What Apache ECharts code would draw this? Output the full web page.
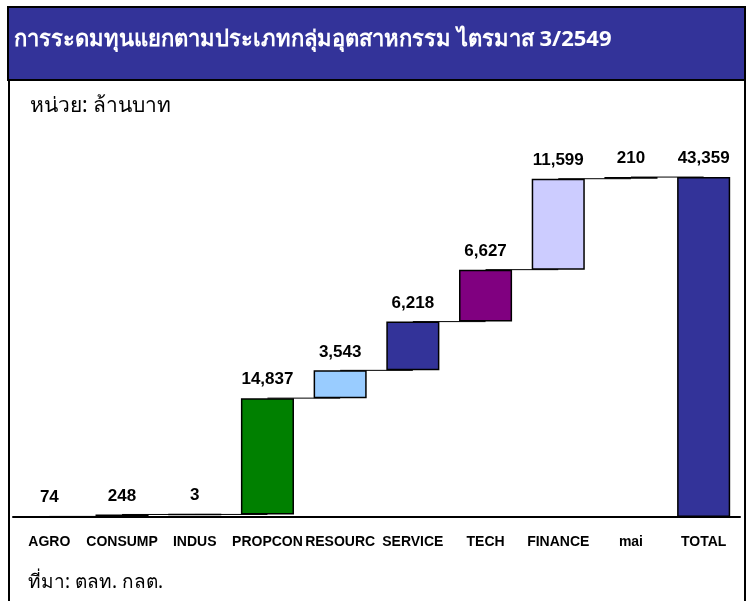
<!DOCTYPE html>
<html>
<head>
<meta charset="utf-8">
<script src="https://cdn.jsdelivr.net/npm/echarts@6/dist/echarts.min.js"></script>
<style>
  html, body { margin: 0; padding: 0; background: #fff; }
  #chart { width: 747px; height: 601px; }
</style>
</head>
<body>
<div id="chart"></div>
<script>
var categories = ['AGRO', 'CONSUMP', 'INDUS', 'PROPCON', 'RESOURC', 'SERVICE', 'TECH', 'FINANCE', 'mai', 'TOTAL'];
var values = [74, 248, 3, 14837, 3543, 6218, 6627, 11599, 210, 43359];
var barColors = ['#333333', '#993300', '#ffffff', '#008000', '#99ccff', '#333399', '#800080', '#ccccff', '#000000', '#333399'];

var titleText = 'การระดมทุนแยกตามประเภทกลุ่มอุตสาหกรรม ไตรมาส 3/2549';
var unitText = 'หน่วย: ล้านบาท';
var sourceText = 'ที่มา: ตลท. กลต.';

// running totals for the waterfall (last bar is the total itself)
var bases = [];
var ends = [];
var run = 0;
for (var i = 0; i < values.length; i++) {
    if (i == values.length - 1) {
        bases.push(0);
        ends.push(values[i]);
    } else {
        bases.push(run);
        run += values[i];
        ends.push(run);
    }
}

var thaiFont = "Tahoma, 'Noto Sans', 'DejaVu Sans', sans-serif";

var option = {
    animation: false,
    backgroundColor: '#fff',
    grid: { left: 13, right: 7, top: 125, bottom: 84 },
    graphic: [
        { type: 'line', shape: { x1: 9, y1: 80, x2: 9, y2: 601 }, style: { stroke: '#000', lineWidth: 2 } },
        { type: 'line', shape: { x1: 745, y1: 80, x2: 745, y2: 601 }, style: { stroke: '#000', lineWidth: 2 } },
        { type: 'rect', shape: { x: 8, y: 7, width: 737, height: 73 }, style: { fill: '#333399', stroke: '#000', lineWidth: 2 } },
        { type: 'text', left: 14, top: 29, style: { text: titleText, fill: '#fff', font: "bold 22px " + thaiFont } },
        { type: 'text', left: 30, top: 96, style: { text: unitText, fill: '#000', font: "21px " + thaiFont } },
        { type: 'text', left: 28, top: 573, style: { text: sourceText, fill: '#000', font: "19px " + thaiFont } }
    ],
    xAxis: {
        type: 'category',
        data: categories,
        axisLine: { lineStyle: { color: '#000', width: 2 } },
        axisTick: { show: false },
        axisLabel: {
            interval: 0,
            margin: 18,
            color: '#000',
            fontWeight: 'bold',
            fontSize: 14,
            fontFamily: "'Liberation Sans', Arial, sans-serif"
        }
    },
    yAxis: {
        type: 'value',
        min: 0,
        max: 50000,
        show: false,
        splitLine: { show: false }
    },
    series: [
        {
            type: 'custom',
            z: 1,
            data: ends.slice(0, ends.length - 1).map(function (v, i) { return [i, v]; }),
            renderItem: function (params, api) {
                var i = api.value(0);
                var p1 = api.coord([i, api.value(1)]);
                var p2 = api.coord([i + 1, api.value(1)]);
                return {
                    type: 'line',
                    shape: { x1: p1[0], y1: p1[1], x2: p2[0], y2: p2[1] },
                    style: { stroke: '#000', lineWidth: 1 }
                };
            }
        },
        {
            type: 'bar',
            stack: 'w',
            z: 2,
            barCategoryGap: '27%',
            itemStyle: { color: 'transparent', borderWidth: 0 },
            emphasis: { disabled: true },
            data: bases
        },
        {
            type: 'bar',
            stack: 'w',
            z: 3,
            data: values.map(function (v, i) {
                return { value: v, itemStyle: { color: barColors[i] } };
            }),
            itemStyle: { borderColor: '#000', borderWidth: 1.5 },
            label: {
                show: true,
                position: 'top',
                distance: 10,
                color: '#000',
                fontWeight: 'bold',
                fontSize: 17,
                fontFamily: "'Liberation Sans', Arial, sans-serif",
                formatter: function (p) { return p.value.toLocaleString('en-US'); }
            }
        }
    ]
};

var myChart = echarts.init(document.getElementById('chart'));
myChart.setOption(option);
</script>
</body>
</html>
